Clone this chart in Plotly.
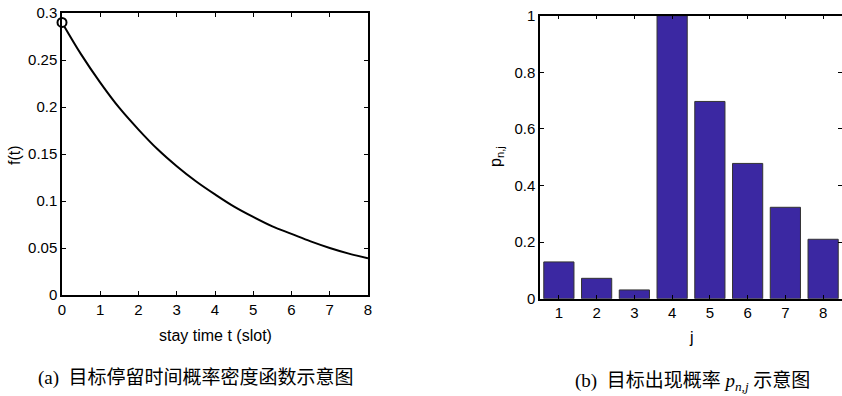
import plotly.graph_objects as go

# ---- data ----
t_vals = [0, 0.5, 1, 1.5, 2, 2.5, 3, 3.5, 4, 4.5, 5, 5.5, 6, 6.5, 7, 7.5, 8]
f_vals = [0.290, 0.256, 0.226, 0.199, 0.176, 0.155, 0.137, 0.121, 0.107,
          0.094, 0.083, 0.073, 0.065, 0.057, 0.050, 0.044, 0.039]
j_vals = [1, 2, 3, 4, 5, 6, 7, 8]
p_vals = [0.13, 0.072, 0.031, 1.0, 0.697, 0.478, 0.323, 0.21]
left_yticks = [0, 0.05, 0.1, 0.15, 0.2, 0.25, 0.3]
left_yticklabels = ["0", "0.05", "0.1", "0.15", "0.2", "0.25", "0.3"]
left_xticks = [0, 1, 2, 3, 4, 5, 6, 7, 8]
right_yticks = [0, 0.2, 0.4, 0.6, 0.8, 1]
right_yticklabels = ["0", "0.2", "0.4", "0.6", "0.8", "1"]

W, H = 842, 396
def px_x(p):
    return p / W
def px_y(p):
    return 1 - p / H

fig = go.Figure()
fig.add_trace(go.Scatter(x=t_vals, y=f_vals, mode="lines", line=dict(color="black", width=2, shape="spline"),
                         xaxis="x", yaxis="y", showlegend=False, hoverinfo="skip"))
fig.add_trace(go.Scatter(x=[t_vals[0]], y=[f_vals[0]], mode="markers",
                         marker=dict(symbol="circle", size=9, color="white", line=dict(color="black", width=2)),
                         xaxis="x", yaxis="y", showlegend=False, cliponaxis=False, hoverinfo="skip"))
fig.add_trace(go.Bar(x=j_vals, y=p_vals, marker=dict(color="#3b28a2", line=dict(color="#333333", width=1)),
                     xaxis="x2", yaxis="y2", showlegend=False))

tickfont = dict(family="Liberation Sans, Arial, sans-serif", size=15, color="black")
axcommon = dict(showgrid=False, zeroline=False, showline=True, linecolor="black", linewidth=1.5,
                mirror="ticks", ticks="inside", ticklen=4, tickcolor="black", tickwidth=1,
                tickfont=tickfont, automargin=False)

fig.update_layout(
    width=W, height=H, margin=dict(l=0, r=0, t=0, b=0, pad=0),
    paper_bgcolor="white", plot_bgcolor="white", bargap=0.2,
    xaxis=dict(domain=[px_x(62), px_x(368)], range=[0, 8], tickvals=left_xticks, anchor="y", **axcommon),
    yaxis=dict(domain=[px_y(295), px_y(13)], range=[0, 0.3], tickvals=left_yticks,
               ticktext=left_yticklabels, anchor="x", **axcommon),
    xaxis2=dict(domain=[px_x(540), 1.0], range=[0.5, 8.5], tickvals=j_vals, anchor="y2", **axcommon),
    yaxis2=dict(domain=[px_y(298.7), px_y(15.7)], range=[0, 1], tickvals=right_yticks,
                ticktext=right_yticklabels, anchor="x2", **axcommon),
)

labfont = dict(family="Liberation Sans, Arial, sans-serif", size=16, color="black")
capfont = dict(family="Liberation Serif, 'Noto Sans CJK SC', serif", size=19, color="black")
ann = [
    dict(text="f(t)", x=px_x(14), y=px_y(155), textangle=-90, font=labfont),
    dict(text="stay time t (slot)", x=px_x(215), y=px_y(335), font=labfont),
    dict(text="p<sub>n,j</sub>", x=px_x(497), y=px_y(157), textangle=-90, font=labfont),
    dict(text="j", x=px_x(691), y=px_y(337), font=labfont),
    dict(text="(a)  目标停留时间概率密度函数示意图", x=px_x(196), y=px_y(378), font=capfont),
    dict(text="(b)  目标出现概率 <i>p</i><sub><i>n,j</i></sub> 示意图", x=px_x(692), y=px_y(382), font=capfont),
]
for a in ann:
    a.update(xref="paper", yref="paper", showarrow=False, xanchor="center", yanchor="middle")
fig.update_layout(annotations=ann)

fig.write_html("out.html", config={"displayModeBar": False},
               post_script="document.body.style.margin='0';document.body.style.overflow='hidden';")
